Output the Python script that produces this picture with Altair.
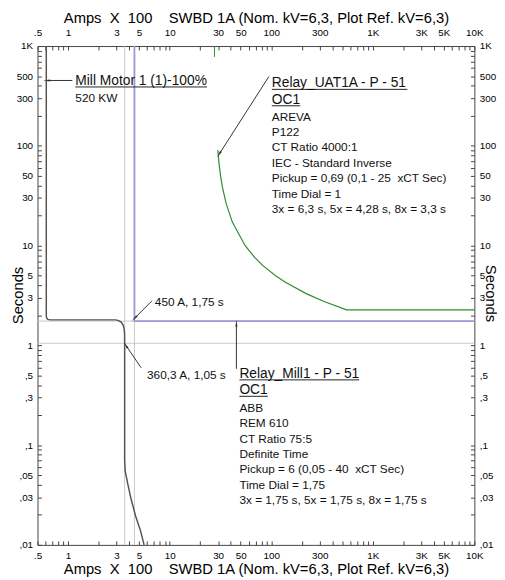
import altair as alt
import pandas as pd

FONT = "Liberation Sans"
NB = "\u00a0"

# ---------------- data (Amps x 100, Seconds) ----------------
# Mill Motor 1 starting curve
motor_amps = [0.61, 0.61, 0.615, 0.63, 0.67, 2.94, 3.15, 3.35, 3.5, 3.57, 3.6, 3.603,
              3.603, 3.65, 3.86, 4.17, 4.61, 5.16, 5.6]
motor_secs = [1000, 1.99, 1.88, 1.82, 1.8, 1.8, 1.77, 1.7, 1.58, 1.45, 1.3, 1.15,
              0.0705, 0.055, 0.0414, 0.0288, 0.0196, 0.0139, 0.01]

# Relay_UAT1A (IEC standard inverse)
uat_amps = [29.8, 30.6, 31.7, 33.1, 35.9, 41.4, 55.2, 69.0, 82.8, 110.4, 138, 220.8, 331, 552, 10000]
uat_secs = [90.9, 67.0, 50.0, 38.3, 26.6, 17.2, 10.03, 7.57, 6.3, 4.98, 4.28, 3.3, 2.75, 2.27, 2.27]

# Relay_Mill1 (definite time)
mill1_amps = [4.5, 4.5, 10000]
mill1_secs = [1000, 1.75, 1.75]

# pickup marker of Relay_UAT1A
pickup_amps = [27.6]
pickup_secs = [1000, 779]

# reference cross-hair lines
ref_amps = [3.603, 4.5]
ref_secs = [1.05, 1.75]

# tick labels
x_label_vals = [0.5, 1, 3, 5, 10, 30, 50, 100, 300, 1000, 3000, 5000, 10000]
x_label_txt = [".5", "1", "3", "5", "10", "30", "50", "100", "300", "1K", "3K", "5K", "10K"]
y_label_vals = [1000, 500, 300, 100, 50, 30, 10, 5, 3, 1, 0.5, 0.3, 0.1, 0.05, 0.03, 0.01]
y_label_txt = ["1K", "500", "300", "100", "50", "30", "10", "5", "3", "1",
               ",5", ",3", ",1", ",05", ",03", ",01"]

x_ticks = [0.5, 0.6, 0.7, 0.8, 0.9] + [round(m * 10 ** e, 6) for e in range(0, 4) for m in range(1, 10)] + [10000]
y_ticks = [round(m * 10 ** e, 6) for e in range(-2, 3) for m in range(1, 10)] + [1000]


def label_expr(vals, txts):
    s = "''"
    for v, t in zip(vals, txts):
        s = f"datum.value == {v} ? '{t}' : " + s
    return s


XTITLE = f"Amps{NB}{NB}X{NB}{NB}100{NB}{NB}{NB}{NB}SWBD 1A (Nom. kV=6,3, Plot Ref. kV=6,3)"

# annotation texts: headers (larger) and bodies
head_text = ["Mill Motor 1 (1)-100%", "Relay_UAT1A - P - 51\nOC1", "Relay_Mill1 - P - 51\nOC1"]
head_x = [1.178, 101.3, 48.6]
head_y = [406, 385.3, 0.4717]

body_text = [
    "520 KW",
    "AREVA\nP122\nCT Ratio 4000:1\nIEC - Standard Inverse\n"
    f"Pickup = 0,69 (0,1 - 25{NB}{NB}xCT Sec)\nTime Dial = 1\n3x = 6,3 s, 5x = 4,28 s, 8x = 3,3 s",
    "ABB\nREM 610\nCT Ratio 75:5\nDefinite Time\n"
    f"Pickup = 6 (0,05 - 40{NB}{NB}xCT Sec)\nTime Dial = 1,75\n3x = 1,75 s, 5x = 1,75 s, 8x = 1,75 s",
    "450 A, 1,75 s",
    "360,3 A, 1,05 s",
]
body_x = [1.178, 101.3, 48.6, 7.15, 5.99]
body_y = [272.2, 178.1, 0.2145, 2.452, 0.464]

underline_x = [1.178, 101.3, 101.3, 48.6, 48.6]
underline_x2 = [23.3, 2189, 193.2, 735, 92.7]
underline_y = [389, 368, 252, 0.4507, 0.3085]

arrow_x = [1.102, 94.8, 6.69, 5.24, 45.4]
arrow_y = [451.7, 494.8, 2.79, 0.596, 0.582]
arrow_x2 = [0.632, 31.1, 4.58, 3.75, 45.4]
arrow_y2 = [451.7, 84.1, 1.897, 0.982, 1.619]
arrow_ang = [270, 212.7, 225, 327.5, 0]

heads = pd.DataFrame({"t": head_text, "x": head_x, "y": head_y})
bodies = pd.DataFrame({"t": body_text, "x": body_x, "y": body_y})
underlines = pd.DataFrame({"x": underline_x, "x2": underline_x2, "y": underline_y})
arrows = pd.DataFrame({"x": arrow_x, "y": arrow_y, "x2": arrow_x2, "y2": arrow_y2, "ang": arrow_ang})

# ---------------- scales & axes ----------------
xs = alt.Scale(type="log", domain=[0.5, 10000], nice=False)
ys = alt.Scale(type="log", domain=[0.01, 1000], nice=False)

common = dict(tickSize=4, offset=-4, domain=False, grid=False, labelFont=FONT, labelFontSize=10,
              labelColor="#000", tickColor="#444", labelOverlap=False, labelFlush=False,
              titleFont=FONT, titleFontSize=15, titleFontWeight="normal", titleColor="#000")
xexpr = label_expr(x_label_vals, x_label_txt)
yexpr = label_expr(y_label_vals, y_label_txt)

ax_bottom = alt.Axis(orient="bottom", values=x_ticks, labelExpr=xexpr, title=XTITLE, labelAngle=0,
                     labelPadding=6, titleX=222, titleY=33, titleBaseline="alphabetic",
                     titleAlign="center", **common)
ax_top = alt.Axis(orient="top", values=x_ticks, labelExpr=xexpr, title=XTITLE, labelAngle=0,
                  labelPadding=9, titleX=222, titleY=-28, titleBaseline="alphabetic",
                  titleAlign="center", **common)
ax_left = alt.Axis(orient="left", values=y_ticks, labelExpr=yexpr, title="Seconds",
                   labelPadding=5, titleAngle=270, titleX=-24.5, titleY=253,
                   titleBaseline="middle", titleAlign="center", **common)
ax_right = alt.Axis(orient="right", values=y_ticks, labelExpr=yexpr, title="Seconds",
                    labelPadding=5, titleAngle=90, titleX=20, titleY=251,
                    titleBaseline="middle", titleAlign="center", **common)

# ---------------- layers ----------------
ref_v = alt.Chart(pd.DataFrame({"amps": ref_amps})).mark_rule(color="#c8c8c8", strokeWidth=1).encode(
    x=alt.X("amps:Q", scale=xs, axis=None))
ref_h = alt.Chart(pd.DataFrame({"secs": ref_secs})).mark_rule(color="#c8c8c8", strokeWidth=1).encode(
    y=alt.Y("secs:Q", scale=ys, axis=None))

pickup = alt.Chart(pd.DataFrame({"amps": pickup_amps, "s1": pickup_secs[:1], "s2": pickup_secs[1:]})).mark_rule(
    color="#2e8b2e", strokeWidth=1).encode(
    x=alt.X("amps:Q", scale=xs, axis=None), y=alt.Y("s1:Q", scale=ys, axis=None), y2="s2:Q")

motor = alt.Chart(pd.DataFrame({"amps": motor_amps, "secs": motor_secs, "i": list(range(len(motor_amps)))})).mark_line(
    color="#555555", strokeWidth=1.5).encode(
    x=alt.X("amps:Q", scale=xs, axis=ax_bottom), y=alt.Y("secs:Q", scale=ys, axis=ax_left), order="i:Q")

mill1 = alt.Chart(pd.DataFrame({"amps": mill1_amps, "secs": mill1_secs, "i": list(range(len(mill1_amps)))})).mark_line(
    color="#9a9ad2", strokeWidth=1.8).encode(
    x=alt.X("amps:Q", scale=xs, axis=ax_top), y=alt.Y("secs:Q", scale=ys, axis=ax_right), order="i:Q")

uat = alt.Chart(pd.DataFrame({"amps": uat_amps, "secs": uat_secs, "i": list(range(len(uat_amps)))})).mark_line(
    color="#2e8b2e", strokeWidth=1.2).encode(
    x=alt.X("amps:Q", scale=xs, axis=None), y=alt.Y("secs:Q", scale=ys, axis=None), order="i:Q")

arrow_lines = alt.Chart(arrows).mark_rule(color="#333333", strokeWidth=1).encode(
    x=alt.X("x:Q", scale=xs, axis=None), y=alt.Y("y:Q", scale=ys, axis=None), x2="x2:Q", y2="y2:Q")
arrow_heads = alt.Chart(arrows).mark_point(shape="wedge", filled=True, size=70, color="#333333", opacity=1).encode(
    x=alt.X("x2:Q", scale=xs, axis=None), y=alt.Y("y2:Q", scale=ys, axis=None),
    angle=alt.Angle("ang:Q", scale=None))

ulines = alt.Chart(underlines).mark_rule(color="#222222", strokeWidth=1).encode(
    x=alt.X("x:Q", scale=xs, axis=None), x2="x2:Q", y=alt.Y("y:Q", scale=ys, axis=None))

head_marks = alt.Chart(heads).mark_text(align="left", baseline="alphabetic", lineBreak="\n", lineHeight=16.7,
                                        font=FONT, fontSize=14, color="#111111").encode(
    x=alt.X("x:Q", scale=xs, axis=None), y=alt.Y("y:Q", scale=ys, axis=None), text="t:N")
body_marks = alt.Chart(bodies).mark_text(align="left", baseline="alphabetic", lineBreak="\n", lineHeight=15.6,
                                         font=FONT, fontSize=12, color="#111111").encode(
    x=alt.X("x:Q", scale=xs, axis=None), y=alt.Y("y:Q", scale=ys, axis=None), text="t:N")

chart = alt.layer(ref_v, ref_h, pickup, motor, mill1, uat, arrow_lines, arrow_heads, ulines,
                  head_marks, body_marks).resolve_scale(
    x="independent", y="independent").properties(
    width=444, height=507,
    autosize=alt.AutoSizeParams(type="none"),
    padding={"left": 30, "top": 34, "right": 23, "bottom": 30},
).configure_view(stroke="#444444", strokeWidth=1)

chart.save("out.html", embed_options={"renderer": "svg", "actions": False})
